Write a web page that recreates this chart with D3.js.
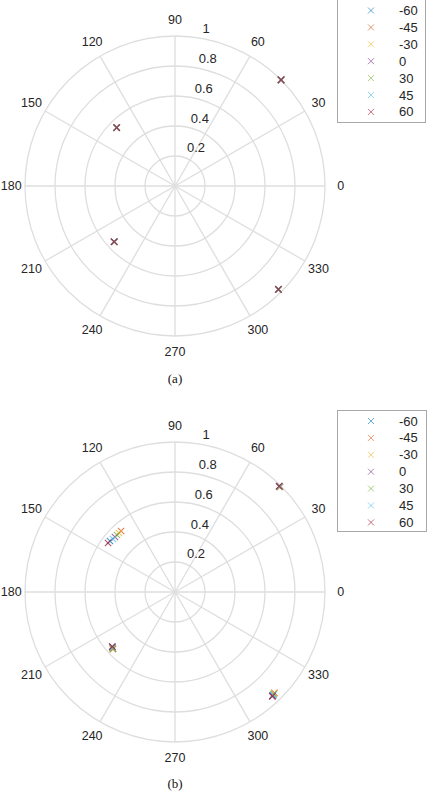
<!DOCTYPE html>
<html>
<head>
<meta charset="utf-8">
<script src="https://cdn.jsdelivr.net/npm/d3@7"></script>
<style>
  body { margin: 0; background: #fff; }
  svg { display: block; }
</style>
</head>
<body>
<div id="chart"></div>
<script>
/// Data

// series names (legend) and colours
var seriesLabels = ["-60", "-45", "-30", "0", "30", "45", "60"];
var seriesColors = ["#0072bd", "#d95319", "#edb120", "#7e2f8e", "#77ac30", "#4dbeee", "#a2142f"];

// axis ticks
var thetaTicks = [0, 30, 60, 90, 120, 150, 180, 210, 240, 270, 300, 330];
var rTicks = [0.2, 0.4, 0.6, 0.8, 1];
var rTickLabels = ["0.2", "0.4", "0.6", "0.8", "1"];

// panel (a): angle in degrees, radius, one row per series
var thetaA = [
  [45, 135, 222.5, 315],
  [45, 135, 222.5, 315],
  [45, 135, 222.5, 315],
  [45, 135, 222.5, 315],
  [45, 135, 222.5, 315],
  [45, 135, 222.5, 315],
  [45, 135, 222.5, 315]
];
var rA = [
  [1.0, 0.55, 0.55, 0.975],
  [1.0, 0.55, 0.55, 0.975],
  [1.0, 0.55, 0.55, 0.975],
  [1.0, 0.55, 0.55, 0.975],
  [1.0, 0.55, 0.55, 0.975],
  [1.0, 0.55, 0.55, 0.975],
  [1.0, 0.55, 0.55, 0.975]
];

// panel (b)
var thetaB = [
  [45.3, 141.9, 221.5, 313.4],
  [45.0, 131.5, 222.6, 314.6],
  [45.1, 133.5, 222.1, 314.3],
  [45.4, 137.5, 221.1, 313.2],
  [45.2, 135.5, 222.4, 314.0],
  [45.3, 139.5, 221.6, 313.7],
  [45.5, 143.8, 221.0, 313.0]
];
var rB = [
  [0.99, 0.551, 0.557, 0.948],
  [0.99, 0.543, 0.562, 0.944],
  [0.99, 0.542, 0.559, 0.946],
  [0.99, 0.543, 0.555, 0.950],
  [0.99, 0.542, 0.560, 0.947],
  [0.99, 0.544, 0.556, 0.949],
  [0.99, 0.553, 0.554, 0.951]
];

/// Geometry
var width = 437, height = 793;
var outerR = 150;
var gridColor = "#dedede";
var textColor = "#262626";

var rScale = d3.scaleLinear().domain([0, 1]).range([0, outerR]);
var thetaScale = d3.scaleLinear().domain([0, 360]).range([0, 2 * Math.PI]);

var svg = d3.select("#chart").append("svg")
  .attr("width", width)
  .attr("height", height);

function px(r, t) { return rScale(r) * Math.cos(thetaScale(t)); }
function py(r, t) { return -rScale(r) * Math.sin(thetaScale(t)); }

function drawPolar(cx, cy, thetaData, rData, caption, captionY) {
  var g = svg.append("g").attr("transform", "translate(" + cx + "," + cy + ")");

  // rings
  g.selectAll("circle.ring").data(rTicks).join("circle")
    .attr("class", "ring")
    .attr("r", function (d) { return rScale(d); })
    .attr("fill", "none")
    .attr("stroke", gridColor)
    .attr("stroke-width", 1.3);

  // spokes
  g.selectAll("line.spoke").data(thetaTicks).join("line")
    .attr("class", "spoke")
    .attr("x1", 0).attr("y1", 0)
    .attr("x2", function (d) { return px(1, d); })
    .attr("y2", function (d) { return py(1, d); })
    .attr("stroke", gridColor)
    .attr("stroke-width", 1.3);

  // theta labels
  g.selectAll("text.tlab").data(thetaTicks).join("text")
    .attr("class", "tlab")
    .attr("x", function (d) { return px(1.105, d) + (d === 180 ? 2 : 0); })
    .attr("y", function (d) { return py(1.105, d); })
    .attr("text-anchor", "middle")
    .attr("dominant-baseline", "central")
    .attr("font-family", "Liberation Sans, Arial, sans-serif")
    .attr("font-size", 12.5)
    .attr("fill", textColor)
    .text(function (d) { return d; });

  // r labels along 82.5 deg
  g.selectAll("text.rlab").data(rTicks).join("text")
    .attr("class", "rlab")
    .attr("x", function (d) { return px(d, 82.5) + 8; })
    .attr("y", function (d) { return py(d, 82.5) - 4; })
    .attr("text-anchor", "start")
    .attr("font-family", "Liberation Sans, Arial, sans-serif")
    .attr("font-size", 13)
    .attr("fill", textColor)
    .text(function (d, i) { return rTickLabels[i]; });

  // markers
  seriesLabels.forEach(function (name, i) {
    var pts = thetaData[i].map(function (t, j) { return { t: t, r: rData[i][j] }; });
    g.append("g").selectAll("path").data(pts).join("path")
      .attr("d", function (d) {
        var x = px(d.r, d.t), y = py(d.r, d.t), s = 3.2;
        return "M" + (x - s) + "," + (y - s) + "L" + (x + s) + "," + (y + s) +
          "M" + (x - s) + "," + (y + s) + "L" + (x + s) + "," + (y - s);
      })
      .attr("fill", "none")
      .attr("stroke", seriesColors[i])
      .attr("stroke-opacity", 0.75)
      .attr("stroke-width", 1.1);
  });

  svg.append("text")
    .attr("x", cx)
    .attr("y", captionY)
    .attr("text-anchor", "middle")
    .attr("dominant-baseline", "central")
    .attr("font-family", "Liberation Serif, Times New Roman, serif")
    .attr("font-size", 13)
    .attr("fill", "#111")
    .text(caption);
}

function drawLegend(x0, y0, w, h, firstY) {
  var lg = svg.append("g");
  lg.append("rect")
    .attr("x", x0 + 0.5).attr("y", y0 + 0.5)
    .attr("width", w).attr("height", h)
    .attr("fill", "#fff")
    .attr("stroke", "#a8a8a8")
    .attr("stroke-width", 1);
  seriesLabels.forEach(function (name, i) {
    var y = firstY + i * 16.9, x = x0 + 34, s = 3;
    lg.append("path")
      .attr("d", "M" + (x - s) + "," + (y - s) + "L" + (x + s) + "," + (y + s) +
        "M" + (x - s) + "," + (y + s) + "L" + (x + s) + "," + (y - s))
      .attr("stroke", seriesColors[i])
      .attr("stroke-opacity", 0.6)
      .attr("stroke-width", 1);
    lg.append("text")
      .attr("x", x0 + 62)
      .attr("y", y)
      .attr("dominant-baseline", "central")
      .attr("font-family", "Liberation Sans, Arial, sans-serif")
      .attr("font-size", 13)
      .attr("fill", textColor)
      .text(name);
  });
}

drawPolar(175, 186, thetaA, rA, "(a)", 378);
drawPolar(175, 592, thetaB, rB, "(b)", 783);
drawLegend(337, -1, 88, 123, 10.5);
drawLegend(337, 410, 89, 121, 421);
</script>
</body>
</html>
